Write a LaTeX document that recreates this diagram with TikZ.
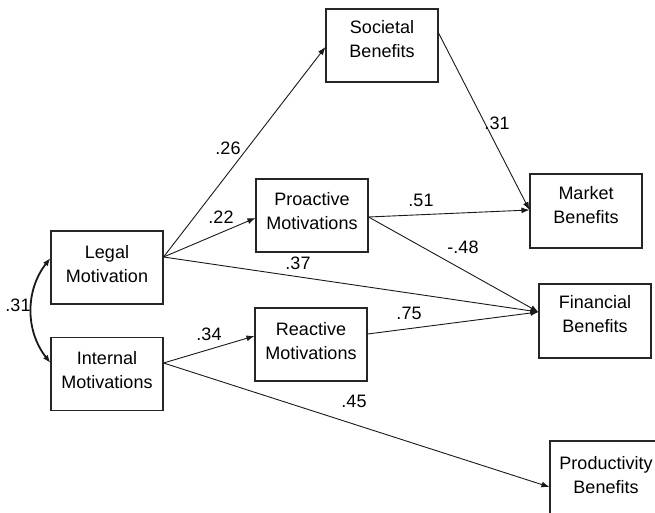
\documentclass[tikz,border=0pt]{standalone}
\usepackage{fontspec}
\setmainfont{Liberation Sans}
\usetikzlibrary{arrows.meta}
\begin{document}
\begin{tikzpicture}[x=1pt,y=-1pt,
  box/.style={draw=black!85, line width=1.1pt, minimum width=112pt, minimum height=73pt, inner sep=0pt},
  txt/.style={align=center, font=\fontsize{18}{24}\selectfont, inner sep=0pt},
  lab/.style={font=\fontsize{18}{22}\selectfont, inner sep=0pt},
  conn/.style={line width=0.9pt, draw=black!90, -{Latex[length=8pt,width=6pt]}},
  dbl/.style={line width=1.8pt, draw=black!90, {Latex[length=8pt,width=6pt]}-{Latex[length=8pt,width=6pt]}}]
\useasboundingbox (0,0) rectangle (655,513);
\clip (0,0) rectangle (655,513);
% boxes
\node[box] (legal) at (107,267.5) {};
\node[box] (internal) at (107,374) {};
\node[box] (societal) at (382,45.5) {};
\node[box] (proactive) at (312,215.5) {};
\node[box] (reactive) at (311,344.5) {};
\node[box, minimum height=74pt] (market) at (586,211) {};
\node[box, minimum height=74pt] (financial) at (595,321) {};
\node[box, minimum height=74pt] (productivity) at (606,478) {};
% texts
\node[txt] (legalt) at (107,264) {Legal\\Motivation};
\node[txt] (internalt) at (107,370) {Internal\\Motivations};
\node[txt] (societalt) at (382,39.5) {Societal\\Benefits};
\node[txt] (proactivet) at (312,211.5) {Proactive\\Motivations};
\node[txt] (reactivet) at (311,341) {Reactive\\Motivations};
\node[txt] (markett) at (586,205) {Market\\Benefits};
\node[txt] (financialt) at (595,314.5) {Financial\\Benefits};
\node[txt] (productivityt) at (606,475) {Productivity\\Benefits};
% connectors
\draw[conn] ([yshift=10.5pt]legal.east) -- ([yshift=-1.5pt]societal.west);
\draw[conn] ([yshift=10.5pt]legal.east) -- ([yshift=-2.5pt]proactive.west);
\draw[conn] ([yshift=10.5pt]legal.east) -- ([yshift=9pt]financial.west);
\draw[conn] ([yshift=11pt]internal.east) -- ([yshift=8.5pt]reactive.west);
\draw[conn] ([yshift=11pt]internal.east) -- ([yshift=-9pt]productivity.west);
\draw[conn] ([yshift=12.5pt]societal.east) -- ([yshift=1pt]market.west);
\draw[conn] ([yshift=-1.5pt]proactive.east) -- ([yshift=1pt]market.west);
\draw[conn] ([yshift=-1.5pt]proactive.east) -- ([yshift=9pt]financial.west);
\draw[conn] ([yshift=10.5pt]reactive.east) -- ([yshift=9pt]financial.west);
\draw[dbl] ([yshift=9.5pt]legal.west) to[bend right=38] ([yshift=11pt]internal.west);
% labels
\node[lab] (l26) at (228,148) {.26};
\node[lab] (l22) at (221,217) {.22};
\node[lab] (l37) at (298,263) {.37};
\node[lab] (l51) at (421,200) {.51};
\node[lab] (l48) at (463,247) {-.48};
\node[lab] (l31b) at (497,123) {.31};
\node[lab] (l75) at (409,313) {.75};
\node[lab] (l34) at (209,334) {.34};
\node[lab] (l45) at (354,401) {.45};
\node[lab] (l31a) at (18,305) {.31};
\end{tikzpicture}
\end{document}
